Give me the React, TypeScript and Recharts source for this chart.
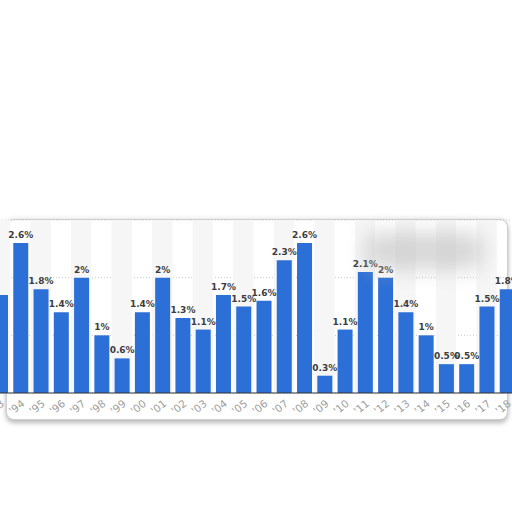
import {
  BarChart,
  Bar,
  XAxis,
  YAxis,
  CartesianGrid,
  ReferenceArea,
  LabelList,
} from "recharts";

// Years shown along the x axis (first one is cut off at the left edge)
const YEARS = [
  "'93", "'94", "'95", "'96", "'97", "'98", "'99", "'00", "'01", "'02",
  "'03", "'04", "'05", "'06", "'07", "'08", "'09", "'10", "'11", "'12",
  "'13", "'14", "'15", "'16", "'17", "'18",
];

// Percentage values
const VALUES = [
  1.7, 2.6, 1.8, 1.4, 2, 1, 0.6, 1.4, 2, 1.3,
  1.1, 1.7, 1.5, 1.6, 2.3, 2.6, 0.3, 1.1, 2.1, 2,
  1.4, 1, 0.5, 0.5, 1.5, 1.8,
];

const Y_TICKS = [0, 1, 2, 3];

const BAR_COLOR = "#2c6fd6";
const BAND_COLOR = "#f6f6f6";

const data = YEARS.map((year, i) => ({ year, value: VALUES[i] }));

// every other year gets a light background column
const bandYears = YEARS.filter((_, i) => i % 2 === 0);

const YearTick = (props: any) => {
  const { x, y, payload } = props;
  return (
    <g transform={`translate(${x + 5},${y + 4})`}>
      <text
        x={0}
        y={0}
        textAnchor="end"
        transform="rotate(-38)"
        fill="#a0a0a0"
        fontSize={10.5}
        fontFamily="DejaVu Sans"
      >
        {payload.value}
      </text>
    </g>
  );
};

const ValueLabel = (props: any) => {
  const { x, y, width, value, index } = props;
  // the first column's label sits outside the visible area
  if (index === 0) return null;
  return (
    <text
      x={x + width / 2}
      y={y - 5}
      textAnchor="middle"
      fill="#3d3d3d"
      fontSize={9}
      fontWeight="bold"
      fontFamily="DejaVu Sans"
    >
      {`${value}%`}
    </text>
  );
};

export default function App() {
  return (
    <div
      style={{
        position: "absolute",
        left: 0,
        top: 0,
        width: 512,
        height: 512,
        background: "#fff",
        overflow: "hidden",
      }}
    >
      {/* card frame behind the chart */}
      <div
        style={{
          position: "absolute",
          left: 6,
          top: 219,
          width: 500,
          height: 199,
          border: "1px solid #cfcfcf",
          borderRadius: 8,
          boxShadow: "0 3px 5px rgba(0,0,0,0.28), 0 -2px 4px rgba(0,0,0,0.06)",
          background: "#fff",
        }}
      />
      <div style={{ position: "absolute", left: 0, top: 0 }}>
        <BarChart
          width={512}
          height={512}
          data={data}
          margin={{ top: 220, right: -5, bottom: 89, left: -10 }}
        >
          {bandYears.map((yr) => (
            <ReferenceArea
              key={yr}
              x1={yr}
              x2={yr}
              fill={BAND_COLOR}
              fillOpacity={1}
              stroke="none"
              ifOverflow="visible"
            />
          ))}
          <CartesianGrid
            vertical={false}
            stroke="#c8c8c8"
            strokeDasharray="1 2"
          />
          <XAxis
            dataKey="year"
            axisLine={{ stroke: "#333", strokeWidth: 1 }}
            tickLine={false}
            interval={0}
            height={30}
            tick={<YearTick />}
          />
          <YAxis hide domain={[0, 3]} ticks={Y_TICKS} />
          <Bar
            dataKey="value"
            fill={BAR_COLOR}
            barSize={15}
            isAnimationActive={false}
          >
            <LabelList dataKey="value" content={<ValueLabel />} />
          </Bar>
        </BarChart>
      </div>
      {/* blurred patch in the upper right of the plot */}
      <div
        style={{
          position: "absolute",
          left: 365,
          top: 232,
          width: 118,
          height: 38,
          background: "#b8b8b8",
          opacity: 0.55,
          filter: "blur(10px)",
          borderRadius: 12,
        }}
      />
    </div>
  );
}
